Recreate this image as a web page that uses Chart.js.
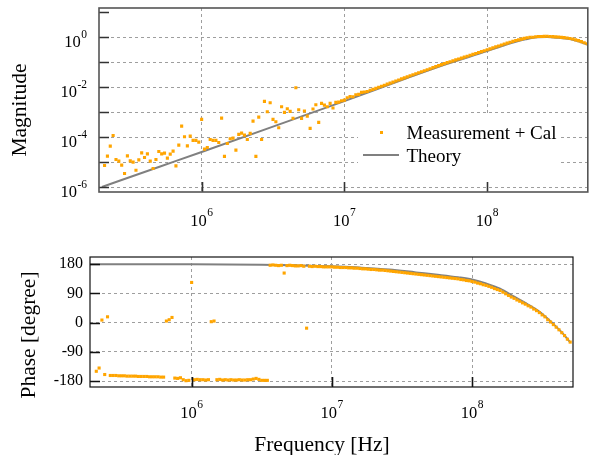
<!DOCTYPE html>
<html><head><meta charset="utf-8">
<script src="https://cdn.jsdelivr.net/npm/chart.js@4.4.1/dist/chart.umd.min.js"></script>
<style>
html,body{margin:0;padding:0;background:#fff;}
body{width:590px;height:455px;position:relative;overflow:hidden;}
#c1{position:absolute;left:0;top:0;}
#c2{position:absolute;left:0;top:235px;}
</style></head><body>
<canvas id="c1" width="590" height="235"></canvas>
<canvas id="c2" width="590" height="220"></canvas>
<script>
const FONT = "'Liberation Serif', 'Times New Roman', Times, serif";
const ORANGE = '#FFA500';
const GRAY = '#808080';
const GRID = '#9E9E9E';

// measurement sweep frequencies [Hz]
const measFreq = [
2.089e5,2.188e5,2.291e5,2.399e5,2.512e5,2.630e5,2.754e5,2.884e5,3.020e5,3.162e5,
3.311e5,3.467e5,3.631e5,3.802e5,3.981e5,4.169e5,4.365e5,4.571e5,4.786e5,5.012e5,
5.248e5,5.495e5,5.754e5,6.026e5,6.310e5,6.607e5,6.918e5,7.244e5,7.586e5,7.943e5,
8.318e5,8.710e5,9.120e5,9.550e5,
1.000e6,1.047e6,1.096e6,1.148e6,1.202e6,1.259e6,1.318e6,1.380e6,1.445e6,1.514e6,
1.585e6,1.660e6,1.738e6,1.820e6,1.905e6,1.995e6,2.089e6,2.188e6,2.291e6,2.399e6,
2.512e6,2.630e6,2.754e6,2.884e6,3.020e6,3.162e6,3.311e6,3.467e6,3.631e6,3.802e6,
3.981e6,4.169e6,4.365e6,4.571e6,4.786e6,5.012e6,5.248e6,5.495e6,5.754e6,6.026e6,
6.310e6,6.607e6,6.918e6,7.244e6,7.586e6,7.943e6,8.318e6,8.710e6,9.120e6,9.550e6,
1.000e7,1.047e7,1.096e7,1.148e7,1.202e7,1.259e7,1.318e7,1.380e7,1.445e7,1.514e7,
1.585e7,1.660e7,1.738e7,1.820e7,1.905e7,1.995e7,2.089e7,2.188e7,2.291e7,2.399e7,
2.512e7,2.630e7,2.754e7,2.884e7,3.020e7,3.162e7,3.311e7,3.467e7,3.631e7,3.802e7,
3.981e7,4.169e7,4.365e7,4.571e7,4.786e7,5.012e7,5.248e7,5.495e7,5.754e7,6.026e7,
6.310e7,6.607e7,6.918e7,7.244e7,7.586e7,7.943e7,8.318e7,8.710e7,9.120e7,9.550e7,
1.000e8,1.047e8,1.096e8,1.148e8,1.202e8,1.259e8,1.318e8,1.380e8,1.445e8,1.514e8,
1.585e8,1.660e8,1.738e8,1.820e8,1.905e8,1.995e8,2.089e8,2.188e8,2.291e8,2.399e8,
2.512e8,2.630e8,2.754e8,2.884e8,3.020e8,3.162e8,3.311e8,3.467e8,3.631e8,3.802e8,
3.981e8,4.169e8,4.365e8,4.571e8,4.786e8,5.012e8
];
// measured magnitude (Measurement + Cal)
const measMag = [
7.6e-6,1.79e-5,4.49e-5,1.2e-4,1.32e-5,1.13e-5,7.8e-6,3.6e-6,1.84e-5,1.16e-5,
1.03e-5,4.9e-6,1.27e-5,2.42e-5,1.58e-5,2.21e-5,1.13e-5,5.75e-6,1.32e-5,2.75e-5,
2.21e-5,2.36e-5,1.49e-5,2.15e-5,2.83e-5,7.3e-6,4.92e-5,2.83e-4,1.06e-4,4.61e-5,
1.13e-4,7.6e-5,7.6e-5,6.49e-5,5.25e-4,3.4e-5,3.98e-5,8.3e-5,7.6e-5,7.6e-5,
6.3e-5,5.9e-4,1.74e-5,5.75e-5,8.8e-5,9.4e-5,3.1e-5,1.32e-4,1.49e-4,1.24e-4,
8.3e-5,1.45e-4,4.49e-4,1.74e-5,6.49e-4,8.3e-5,2.75e-3,1.06e-3,2.42e-3,5.25e-4,
4.2e-4,2.42e-4,1.67e-3,1.0e-3,1.39e-3,1.1e-3,5.75e-4,9.6e-3,1.27e-3,5.75e-4,
1.13e-3,7.1e-4,2.29e-4,1.36e-3,2.01e-3,3.98e-4,2.29e-3,1.96e-3,1.67e-3,2.29e-3,
1.49e-3,2.51e-3,2.58e-3,2.91e-3,3.1e-3,3.84e-3,4.31e-3,4.23e-3,5.09e-3,5.24e-3,
6.32e-3,6.5e-3,6.84e-3,7.69e-3,8.28e-3,9.12e-3,1.005e-2,1.107e-2,1.216e-2,1.34e-2,
1.476e-2,1.626e-2,1.791e-2,1.972e-2,2.173e-2,2.393e-2,2.63e-2,2.891e-2,3.177e-2,3.491e-2,
3.837e-2,4.207e-2,4.624e-2,5.082e-2,5.572e-2,6.124e-2,6.73e-2,7.396e-2,8.11e-2,8.913e-2,
9.7e-2,0.1054,0.1148,0.125,0.1358,0.1479,0.1611,0.175,0.1905,0.2075,
0.2254,0.2455,0.2673,0.2904,0.3162,0.3451,0.3776,0.4121,0.4508,0.492,
0.5383,0.5848,0.6324,0.6855,0.7413,0.7925,0.8453,0.9036,0.955,1.0,
1.0,1.047,1.074,1.081,1.089,1.096,1.079,1.059,1.04,1.023,
0.995,0.968,0.933,0.891,0.851,0.791,0.735,0.673,0.608,0.55
];
// measured phase [degree]
const measPhase = [
-150,-140,8,-160,18,-163,-163,-163,-164,-164,
-164,-165,-165,-165,-165,-166,-166,-166,-166,-167,
-167,-167,-167,-168,-168,5,9,16,-171,-172,
-170,-176,-179,-178,124,-176,-175,-176,-176,-177,
-176,3,5,-176,-175,-177,-176,-177,-176,-177,
-177,-176,-177,-177,-176,-176,-174,-172,-175,-178,
-178,-178,177,178,177,176,177,153,176,177,
176,175,175,176,174,-17,174,173,174,173,
173,172,172,172,172,171,171,170,170,170,
169,169,168,168,167,166,166,165,164,164,
163,162,162,161,160,159,158,157,156,155,
154,153,152,151,150,149,148,147,146,145,
144,143,142,141,140,139,138,137,136,135,
133,132,130,129,127,125,122,120,117,115,
112,109,105,102,99,94,89,84,79,75,
70,66,61,57,52,48,42,37,31,24,
18,9,2,-6,-14,-22,-31,-40,-51,-60
];
// theory curves
const thMagFreq = [2.0e5,5.01e5,1e6,3.16e6,1e7,2.69e7,5.01e7,1e8,1.35e8,1.585e8,1.86e8,2.24e8,2.63e8,3.16e8,3.55e8,3.98e8,4.47e8,5.01e8];
const thMag = [1.05e-6,6.6e-6,2.63e-5,2.69e-4,2.82e-3,2.24e-2,7.94e-2,0.282,0.501,0.661,0.832,1.0,1.02,0.955,0.891,0.794,0.661,0.513];
const thPhFreq = [1.88e5,1e6,3.16e6,5.01e6,1e7,1.585e7,2.57e7,3.98e7,5.89e7,7.94e7,1e8,1.26e8,1.585e8,2.0e8,2.51e8,2.88e8,3.31e8,3.80e8,4.37e8,5.01e8];
const thPh = [180,180,178.5,177,174,170,164,155,147,140,133,121,105,80,56,40,20,-4,-30,-60];

// ticks (power-of-ten labels: base + exponent)
const freqTicks = [1e6,1e7,1e8];
const freqTickExps = ['6','7','8'];
const magTicks = [1e-6,1e-5,1e-4,1e-3,1e-2,1e-1,1e0,1e1];
const magTickExps = ['-6',null,'-4',null,'-2',null,'0',null];
const powBase = '10';
const phaseTicks = [-180,-90,0,90,180];
const phaseTickLabels = ['-180','-90','0','90','180'];
const seriesLabels = ['Measurement + Cal','Theory'];
const titleMag = 'Magnitude', titlePhase = 'Phase [degree]', titleFreq = 'Frequency [Hz]';

const pts = (xs, ys) => xs.map((x, i) => ({x: x, y: ys[i]}));
const labelFor = (vals, labels) => (v) => { const i = vals.findIndex(t => Math.abs(t - v) <= Math.abs(v) * 1e-6); return i >= 0 ? labels[i] : ''; };

const frame = {
  id: 'frame',
  afterDatasetsDraw(chart, args, o) {
    const {ctx, chartArea: a, scales} = chart;
    ctx.save();
    ctx.strokeStyle = o.tickColor; ctx.lineWidth = o.tickWidth;
    ctx.beginPath();
    scales.y.ticks.forEach(t => { const y = Math.round(scales.y.getPixelForValue(t.value)) + 0.5; ctx.moveTo(a.left, y); ctx.lineTo(a.left + o.len, y); });
    scales.x.ticks.forEach(t => { const x = Math.round(scales.x.getPixelForValue(t.value)) + 0.5; ctx.moveTo(x, a.bottom); ctx.lineTo(x, a.bottom - o.len); });
    ctx.stroke();
    ctx.strokeStyle = o.borderColor; ctx.lineWidth = o.borderWidth;
    ctx.strokeRect(a.left, a.top, a.right - a.left, a.bottom - a.top);
    ctx.restore();
  }
};
const powLabels = {
  id: 'powLabels',
  afterDraw(chart, args, o) {
    if (!o.axes) return;
    const ctx = chart.ctx;
    ctx.save();
    ctx.fillStyle = '#000'; ctx.textAlign = 'left'; ctx.textBaseline = 'alphabetic';
    const fb = o.baseSize + 'px ' + FONT, fs = o.supSize + 'px ' + FONT;
    o.axes.forEach(ax => {
      const s = chart.scales[ax.id];
      ax.values.forEach((v, i) => {
        const exp = ax.exps[i];
        if (exp === null || exp === undefined) return;
        const p = s.getPixelForValue(v);
        ctx.font = fb; const wb = ctx.measureText(powBase).width;
        ctx.font = fs; const we = ctx.measureText(exp).width;
        let x, y;
        if (ax.vertical) { x = s.right - ax.pad - we - wb - 0.5; y = p + ax.baseOff; }
        else { x = p - (wb + we + 0.5) / 2; y = ax.baseY; }
        ctx.font = fb; ctx.fillText(powBase, x, y);
        ctx.font = fs; ctx.fillText(exp, x + wb + 0.5, y - ax.raise);
      });
    });
    ctx.restore();
  }
};
const legendBox = {
  id: 'legendBox',
  beforeDatasetsDraw(chart, args, o) {
    if (!o.box) return;
    const ctx = chart.ctx;
    ctx.save();
    ctx.fillStyle = '#fff';
    ctx.fillRect(o.box[0], o.box[1], o.box[2], o.box[3]);
    ctx.restore();
  },
  afterDatasetsDraw(chart, args, o) {
    if (!o.box) return;
    const ctx = chart.ctx, ds = chart.data.datasets;
    ctx.save();
    ctx.font = o.size + 'px ' + FONT;
    ctx.textAlign = 'left'; ctx.textBaseline = 'alphabetic';
    ctx.fillStyle = ds[0].backgroundColor;
    ctx.fillRect(o.markX - 1.5, o.y0 - 1.5, 3, 3);
    ctx.fillStyle = '#000';
    ctx.fillText(ds[0].label, o.textX, o.y0 + o.baseOff);
    ctx.strokeStyle = ds[1].borderColor; ctx.lineWidth = ds[1].borderWidth;
    ctx.beginPath(); ctx.moveTo(o.lineX0, o.y1); ctx.lineTo(o.lineX1, o.y1); ctx.stroke();
    ctx.fillText(ds[1].label, o.textX, o.y1 + o.baseOff);
    ctx.restore();
  }
};
const titles = {
  id: 'titles',
  afterDraw(chart, args, o) {
    const ctx = chart.ctx;
    ctx.save();
    ctx.fillStyle = '#000';
    ctx.font = o.size + 'px ' + FONT;
    o.items.forEach(it => {
      ctx.save();
      ctx.translate(it.x, it.y);
      if (it.rotate) ctx.rotate(-Math.PI / 2);
      ctx.textAlign = 'center'; ctx.textBaseline = 'alphabetic';
      ctx.fillText(it.text, 0, 0);
      ctx.restore();
    });
    ctx.restore();
  }
};

const tickFont = {family: FONT, size: 16};

function xScale(min, max, h) {
  return {
    type: 'logarithmic', min: min, max: max,
    afterBuildTicks: s => { s.ticks = freqTicks.map(v => ({value: v})); },
    afterFit: s => { s.height = h; s.paddingLeft = 0; s.paddingRight = 0; },
    ticks: { display: false, autoSkip: false, maxRotation: 0 },
    grid: { color: GRID, lineWidth: 1, drawTicks: false },
    border: { display: false, dash: [3, 3] }
  };
}

const measStyle = { backgroundColor: ORANGE, borderColor: ORANGE, pointStyle: 'rect', pointRadius: 2.2, pointBorderWidth: 0, pointHoverRadius: 2.2, showLine: false };
const theoryStyle = { borderColor: GRAY, backgroundColor: GRAY, borderWidth: 2, pointRadius: 0, showLine: true, cubicInterpolationMode: 'monotone', fill: false };

new Chart(document.getElementById('c1'), {
  type: 'scatter',
  data: { datasets: [
    Object.assign({ label: seriesLabels[0], data: pts(measFreq, measMag) }, measStyle),
    Object.assign({ label: seriesLabels[1], data: pts(thMagFreq, thMag) }, theoryStyle)
  ]},
  options: {
    responsive: false, animation: false, devicePixelRatio: 1,
    layout: { padding: { top: 8, right: 1, left: 0, bottom: 0 } },
    plugins: {
      legend: { display: false }, tooltip: { enabled: false },
      frame: { tickColor: '#333', tickWidth: 1.6, len: 10, borderColor: '#555', borderWidth: 1.6 },
      legendBox: { box: [358, 116, 200, 64], size: 19, markX: 381.5, textX: 406.5, y0: 132.5, y1: 155, baseOff: 6.5, lineX0: 363, lineX1: 399 },
      titles: { size: 21.5, items: [{ text: titleMag, x: 25.5, y: 110, rotate: true }] },
      powLabels: { baseSize: 16.5, supSize: 11.5, axes: [
        { id: 'x', values: freqTicks, exps: freqTickExps, vertical: false, baseY: 225.5, raise: 9.5 },
        { id: 'y', values: magTicks, exps: magTickExps, vertical: true, pad: 12, baseOff: 9.5, raise: 8.5 }
      ] }
    },
    scales: {
      x: xScale(1.91e5, 5.07e8, 43),
      y: {
        type: 'logarithmic', min: 6.6e-7, max: 14.8,
        afterBuildTicks: s => { s.ticks = magTicks.map(v => ({value: v})); },
        afterFit: s => { s.width = 99; s.paddingTop = 0; s.paddingBottom = 0; },
        ticks: { display: false, autoSkip: false },
        grid: { color: c => (c.tick && c.tick.value > 2) ? 'rgba(0,0,0,0)' : GRID, lineWidth: 1, drawTicks: false },
        border: { display: false, dash: [3, 3] }
      }
    }
  },
  plugins: [frame, legendBox, titles, powLabels]
});

new Chart(document.getElementById('c2'), {
  type: 'scatter',
  data: { datasets: [
    Object.assign({ label: seriesLabels[0], data: pts(measFreq, measPhase) }, measStyle),
    Object.assign({ label: seriesLabels[1], data: pts(thPhFreq, thPh) }, theoryStyle)
  ]},
  options: {
    responsive: false, animation: false, devicePixelRatio: 1,
    layout: { padding: { top: 22, right: 17, left: 0, bottom: 0 } },
    plugins: {
      legend: { display: false }, tooltip: { enabled: false },
      frame: { tickColor: '#111', tickWidth: 1.6, len: 10, borderColor: '#111', borderWidth: 1.2 },
      legendBox: {},
      titles: { size: 21.5, items: [
        { text: titlePhase, x: 34.5, y: 100, rotate: true },
        { text: titleFreq, x: 322, y: 215.5, rotate: false }
      ] },
      powLabels: { baseSize: 16.5, supSize: 11.5, axes: [
        { id: 'x', values: freqTicks, exps: freqTickExps, vertical: false, baseY: 182.5, raise: 9.5 }
      ] }
    },
    scales: {
      x: xScale(1.884e5, 5.25e8, 68),
      y: {
        type: 'linear', min: -198.5, max: 202.5,
        afterBuildTicks: s => { s.ticks = phaseTicks.map(v => ({value: v})); },
        afterFit: s => { s.width = 90; s.paddingTop = 0; s.paddingBottom = 0; },
        ticks: { callback: labelFor(phaseTicks, phaseTickLabels), font: tickFont, color: '#000', padding: 7, autoSkip: false },
        grid: { color: GRID, lineWidth: 1, drawTicks: false },
        border: { display: false, dash: [3, 3] }
      }
    }
  },
  plugins: [frame, legendBox, titles, powLabels]
});
</script>
</body></html>
